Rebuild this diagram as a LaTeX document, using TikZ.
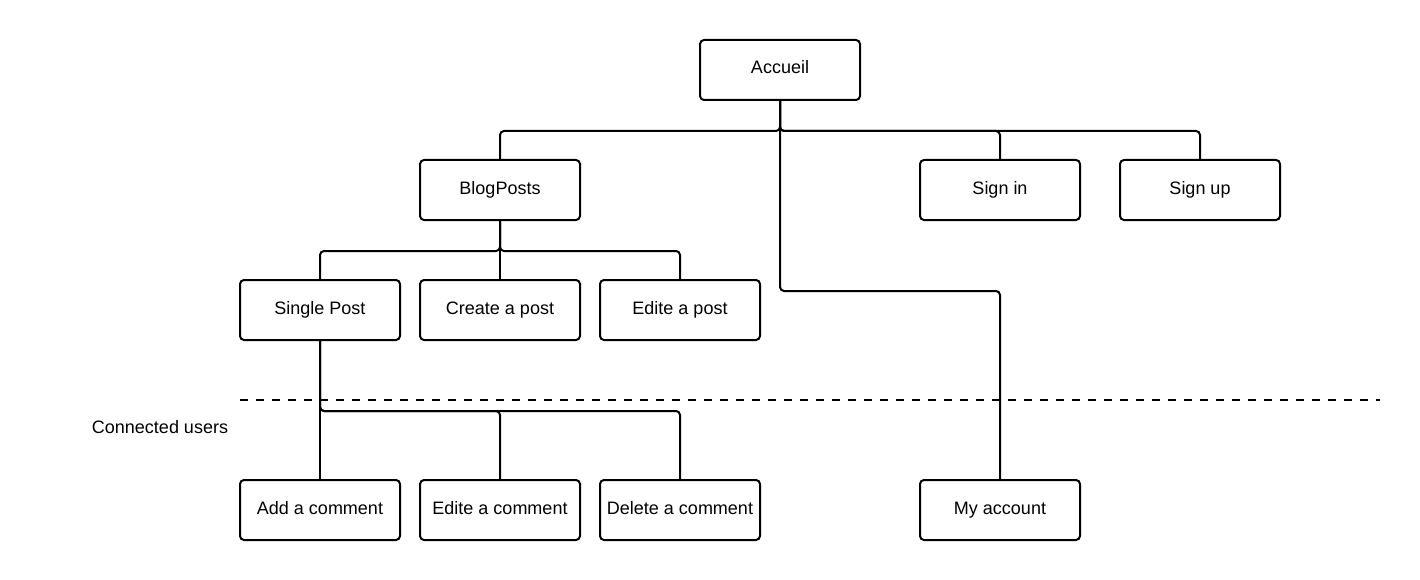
\documentclass[tikz,border=0pt]{standalone}
\usepackage{fontspec}
\setmainfont{Liberation Sans}
\begin{document}
\begin{tikzpicture}[x=1pt,y=-1pt,
  box/.style={draw, line width=2pt, rounded corners=4pt, minimum width=160pt, minimum height=60pt, inner sep=0pt, text height=12pt, text depth=4pt, font=\fontsize{18}{21}\selectfont},
  conn/.style={line width=2pt, rounded corners=4pt},
  sep/.style={line width=2pt, dash pattern=on 8pt off 8pt}]
\useasboundingbox (0,0) rectangle (1420,580);
\node[box] (acc) at (780,70) {Accueil};
\node[box] (blog) at (500,190) {BlogPosts};
\node[box] (signin) at (1000,190) {Sign in};
\node[box] (signup) at (1200,190) {Sign up};
\node[box] (single) at (320,310) {Single Post};
\node[box] (create) at (500,310) {Create a post};
\node[box] (editp) at (680,310) {Edite a post};
\node[box] (addc) at (320,510) {Add a comment};
\node[box] (editc) at (500,510) {Edite a comment};
\node[box] (delc) at (680,510) {Delete a comment};
\node[box] (myacc) at (1000,510) {My account};
\node[font=\fontsize{18}{21}\selectfont, text height=12pt, text depth=4pt, inner sep=0pt] (conu) at (160,429) {Connected users};
\coordinate (dl) at (240,400);
\coordinate (dr) at (1380,400);
\draw[sep] (dl) -- (dr);
\draw[conn] (acc.south) -- ++(0,30) -| (blog.north);
\draw[conn] (acc.south) -- ++(0,30) -| (signin.north);
\draw[conn] (acc.south) -- ++(0,30) -| (signup.north);
\draw[conn] (acc.south) -- ++(0,190) -| (myacc.north);
\draw[conn] (blog.south) -- ++(0,30) -| (single.north);
\draw[conn] (blog.south) -- (create.north);
\draw[conn] (blog.south) -- ++(0,30) -| (editp.north);
\draw[conn] (single.south) -- (addc.north);
\draw[conn] (single.south) -- ++(0,70) -| (editc.north);
\draw[conn] (single.south) -- ++(0,70) -| (delc.north);
\end{tikzpicture}
\end{document}
